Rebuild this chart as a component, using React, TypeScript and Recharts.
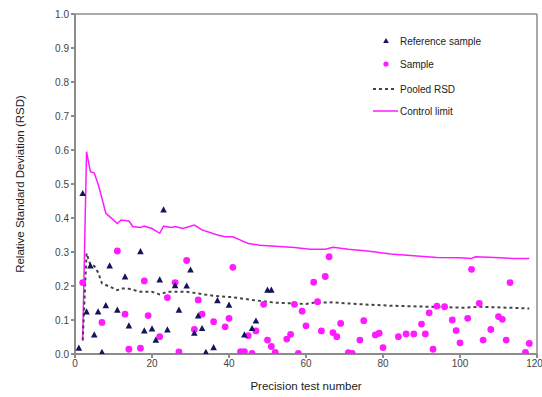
import {
  ComposedChart,
  Line,
  ReferenceLine,
  Scatter,
  XAxis,
  YAxis,
} from "recharts";

// [test number, RSD]
const referenceSample: [number, number][] = [
  [1, 0.017], [2, 0.472], [3, 0.124], [4, 0.259], [5, 0.056], [6, 0.124],
  [7, 0.005], [8, 0.142], [9, 0.259], [11, 0.129], [13, 0.227], [14, 0.083],
  [17, 0.301], [18, 0.068], [20, 0.074], [21, 0.041], [22, 0.218], [23, 0.424],
  [24, 0.071], [26, 0.201], [27, 0.129], [29, 0.2], [30, 0.247], [31, 0.061],
  [32, 0.112], [33, 0.075], [34, 0.005], [36, 0.019], [37, 0.157], [40, 0.144],
  [44, 0.056], [46, 0.075], [47, 0.097], [50, 0.188], [51, 0.188],
];

const sample: [number, number][] = [
  [2, 0.21], [7, 0.093], [11, 0.303], [13, 0.117], [14, 0.014], [17, 0.017],
  [18, 0.215], [19, 0.113], [22, 0.051], [24, 0.166], [26, 0.21], [27, 0.006],
  [29, 0.275], [31, 0.072], [32, 0.159], [33, 0.117], [36, 0.095], [39, 0.08],
  [40, 0.105], [41, 0.255], [43, 0.007], [44, 0.007], [45, 0.054], [46, 0.002],
  [47, 0.068], [49, 0.146], [50, 0.041], [51, 0.022], [52, 0.005], [55, 0.044],
  [56, 0.058], [57, 0.146], [58, 0.002], [59, 0.126], [60, 0.083], [62, 0.211],
  [63, 0.154], [64, 0.068], [65, 0.228], [66, 0.286], [67, 0.063], [68, 0.051],
  [69, 0.09], [71, 0.004], [72, 0.002], [74, 0.041], [75, 0.098], [78, 0.056],
  [79, 0.061], [80, 0.019], [84, 0.051], [86, 0.059], [88, 0.059], [90, 0.088],
  [91, 0.059], [92, 0.121], [93, 0.014], [94, 0.141], [96, 0.139], [98, 0.1],
  [99, 0.069], [100, 0.033], [102, 0.105], [103, 0.249], [105, 0.149], [106, 0.041],
  [108, 0.072], [110, 0.11], [111, 0.102], [112, 0.041], [113, 0.21], [117, 0.005],
  [118, 0.031],
];

const pooledRsd: [number, number][] = [
  [2, 0.04], [3, 0.296], [4, 0.262], [5, 0.259], [6, 0.24], [7, 0.208],
  [9, 0.198], [11, 0.188], [12, 0.193], [14, 0.192], [17, 0.183], [20, 0.183],
  [22, 0.175], [24, 0.183], [29, 0.183], [32, 0.178], [36, 0.171], [41, 0.167],
  [46, 0.159], [52, 0.151], [60, 0.147], [62, 0.151], [67, 0.152], [73, 0.147],
  [82, 0.142], [92, 0.139], [101, 0.136], [105, 0.139], [118, 0.134],
];

const controlLimit: [number, number][] = [
  [2, 0.04], [3, 0.595], [4, 0.536], [5, 0.532], [6, 0.5], [7, 0.458],
  [8, 0.414], [9, 0.404], [11, 0.384], [12, 0.394], [14, 0.391], [15, 0.375],
  [17, 0.372], [18, 0.376], [20, 0.369], [22, 0.355], [23, 0.376], [25, 0.372],
  [26, 0.375], [28, 0.369], [31, 0.379], [33, 0.365], [37, 0.35], [39, 0.345],
  [41, 0.345], [43, 0.335], [45, 0.325], [48, 0.32], [51, 0.318], [57, 0.313],
  [61, 0.308], [65, 0.308], [67, 0.314], [71, 0.308], [76, 0.303], [82, 0.294],
  [88, 0.289], [94, 0.284], [100, 0.283], [103, 0.281], [104, 0.286], [109, 0.284],
  [114, 0.281], [118, 0.281],
];

const xTicks = [0, 20, 40, 60, 80, 100, 120];
const yTicks = [0, 0.1, 0.2, 0.3, 0.4, 0.5, 0.6, 0.7, 0.8, 0.9, 1.0];

const toPoints = (rows: [number, number][]) => rows.map(([x, y]) => ({ x, y }));

const NAVY = "#14145a";
const MAGENTA = "#ff1aff";
const AXIS = "#8c8c8c";
const FONT = "'Liberation Sans', Arial, sans-serif";

const Triangle = (props: any) => {
  const { cx, cy } = props;
  if (cx == null || cy == null) return <g />;
  return (
    <polygon
      points={`${cx},${cy - 3.6} ${cx - 3.3},${cy + 2.6} ${cx + 3.3},${cy + 2.6}`}
      fill={NAVY}
    />
  );
};

const Dot = (props: any) => {
  const { cx, cy } = props;
  if (cx == null || cy == null) return <g />;
  return <circle cx={cx} cy={cy} r={3.4} fill={MAGENTA} />;
};

function LegendBox() {
  const row = (y: number, icon: any, label: string) => (
    <div
      key={label}
      style={{
        position: "absolute",
        left: 370,
        top: y - 8,
        height: 16,
        display: "flex",
        alignItems: "center",
        fontFamily: FONT,
        fontSize: 10,
        color: "#222",
        whiteSpace: "nowrap",
      }}
    >
      <svg width={30} height={16}>{icon}</svg>
      <span>{label}</span>
    </div>
  );
  return (
    <>
      {row(41, <polygon points="16,5 13.2,10 18.8,10" fill={NAVY} />, "Reference sample")}
      {row(64, <circle cx={16} cy={8} r={2.6} fill={MAGENTA} />, "Sample")}
      {row(
        89,
        <line x1={3} y1={8} x2={27} y2={8} stroke="#444" strokeWidth={2} strokeDasharray="3 3" />,
        "Pooled RSD"
      )}
      {row(111, <line x1={3} y1={8} x2={28} y2={8} stroke={MAGENTA} strokeWidth={1.5} />, "Control limit")}
    </>
  );
}

export default function App() {
  return (
    <div style={{ position: "absolute", left: 0, top: 0, width: 542, height: 397, background: "#fff" }}>
      <ComposedChart
        width={542}
        height={397}
        margin={{ top: 14, right: 5, bottom: 0, left: 28 }}
      >
        <XAxis
          type="number"
          dataKey="x"
          domain={[0, 120]}
          ticks={xTicks}
          allowDataOverflow
          height={43}
          stroke={AXIS}
          strokeWidth={2}
          tickSize={4}
          tick={{ fill: "#444", fontSize: 10, fontFamily: FONT }}
          label={{
            value: "Precision test number",
            position: "insideBottom",
            offset: 7,
            fill: "#222",
            fontSize: 11.5,
            fontFamily: FONT,
          }}
        />
        <YAxis
          type="number"
          dataKey="y"
          domain={[0, 1]}
          ticks={yTicks}
          allowDataOverflow
          width={47}
          stroke={AXIS}
          strokeWidth={2}
          tickSize={4}
          tickFormatter={(v: number) => v.toFixed(1)}
          tick={{ fill: "#444", fontSize: 10, fontFamily: FONT }}
          label={{
            value: "Relative Standard Deviation (RSD)",
            angle: -90,
            position: "insideLeft",
            offset: -8,
            style: { textAnchor: "middle" },
            fill: "#222",
            fontSize: 11.5,
            fontFamily: FONT,
          }}
        />
        <ReferenceLine y={1} stroke={AXIS} strokeWidth={1.5} />
        <ReferenceLine x={120} stroke={AXIS} strokeWidth={1.5} />
        <Line
          data={toPoints(controlLimit)}
          dataKey="y"
          type="linear"
          stroke={MAGENTA}
          strokeWidth={1.5}
          dot={false}
          activeDot={false}
          isAnimationActive={false}
        />
        <Line
          data={toPoints(pooledRsd)}
          dataKey="y"
          type="linear"
          stroke="#444"
          strokeWidth={2}
          strokeDasharray="3 3"
          dot={false}
          activeDot={false}
          isAnimationActive={false}
        />
        <Scatter
          data={toPoints(sample)}
          dataKey="y"
          shape={Dot}
          isAnimationActive={false}
        />
        <Scatter
          data={toPoints(referenceSample)}
          dataKey="y"
          shape={Triangle}
          isAnimationActive={false}
        />
      </ComposedChart>
      <LegendBox />
    </div>
  );
}
